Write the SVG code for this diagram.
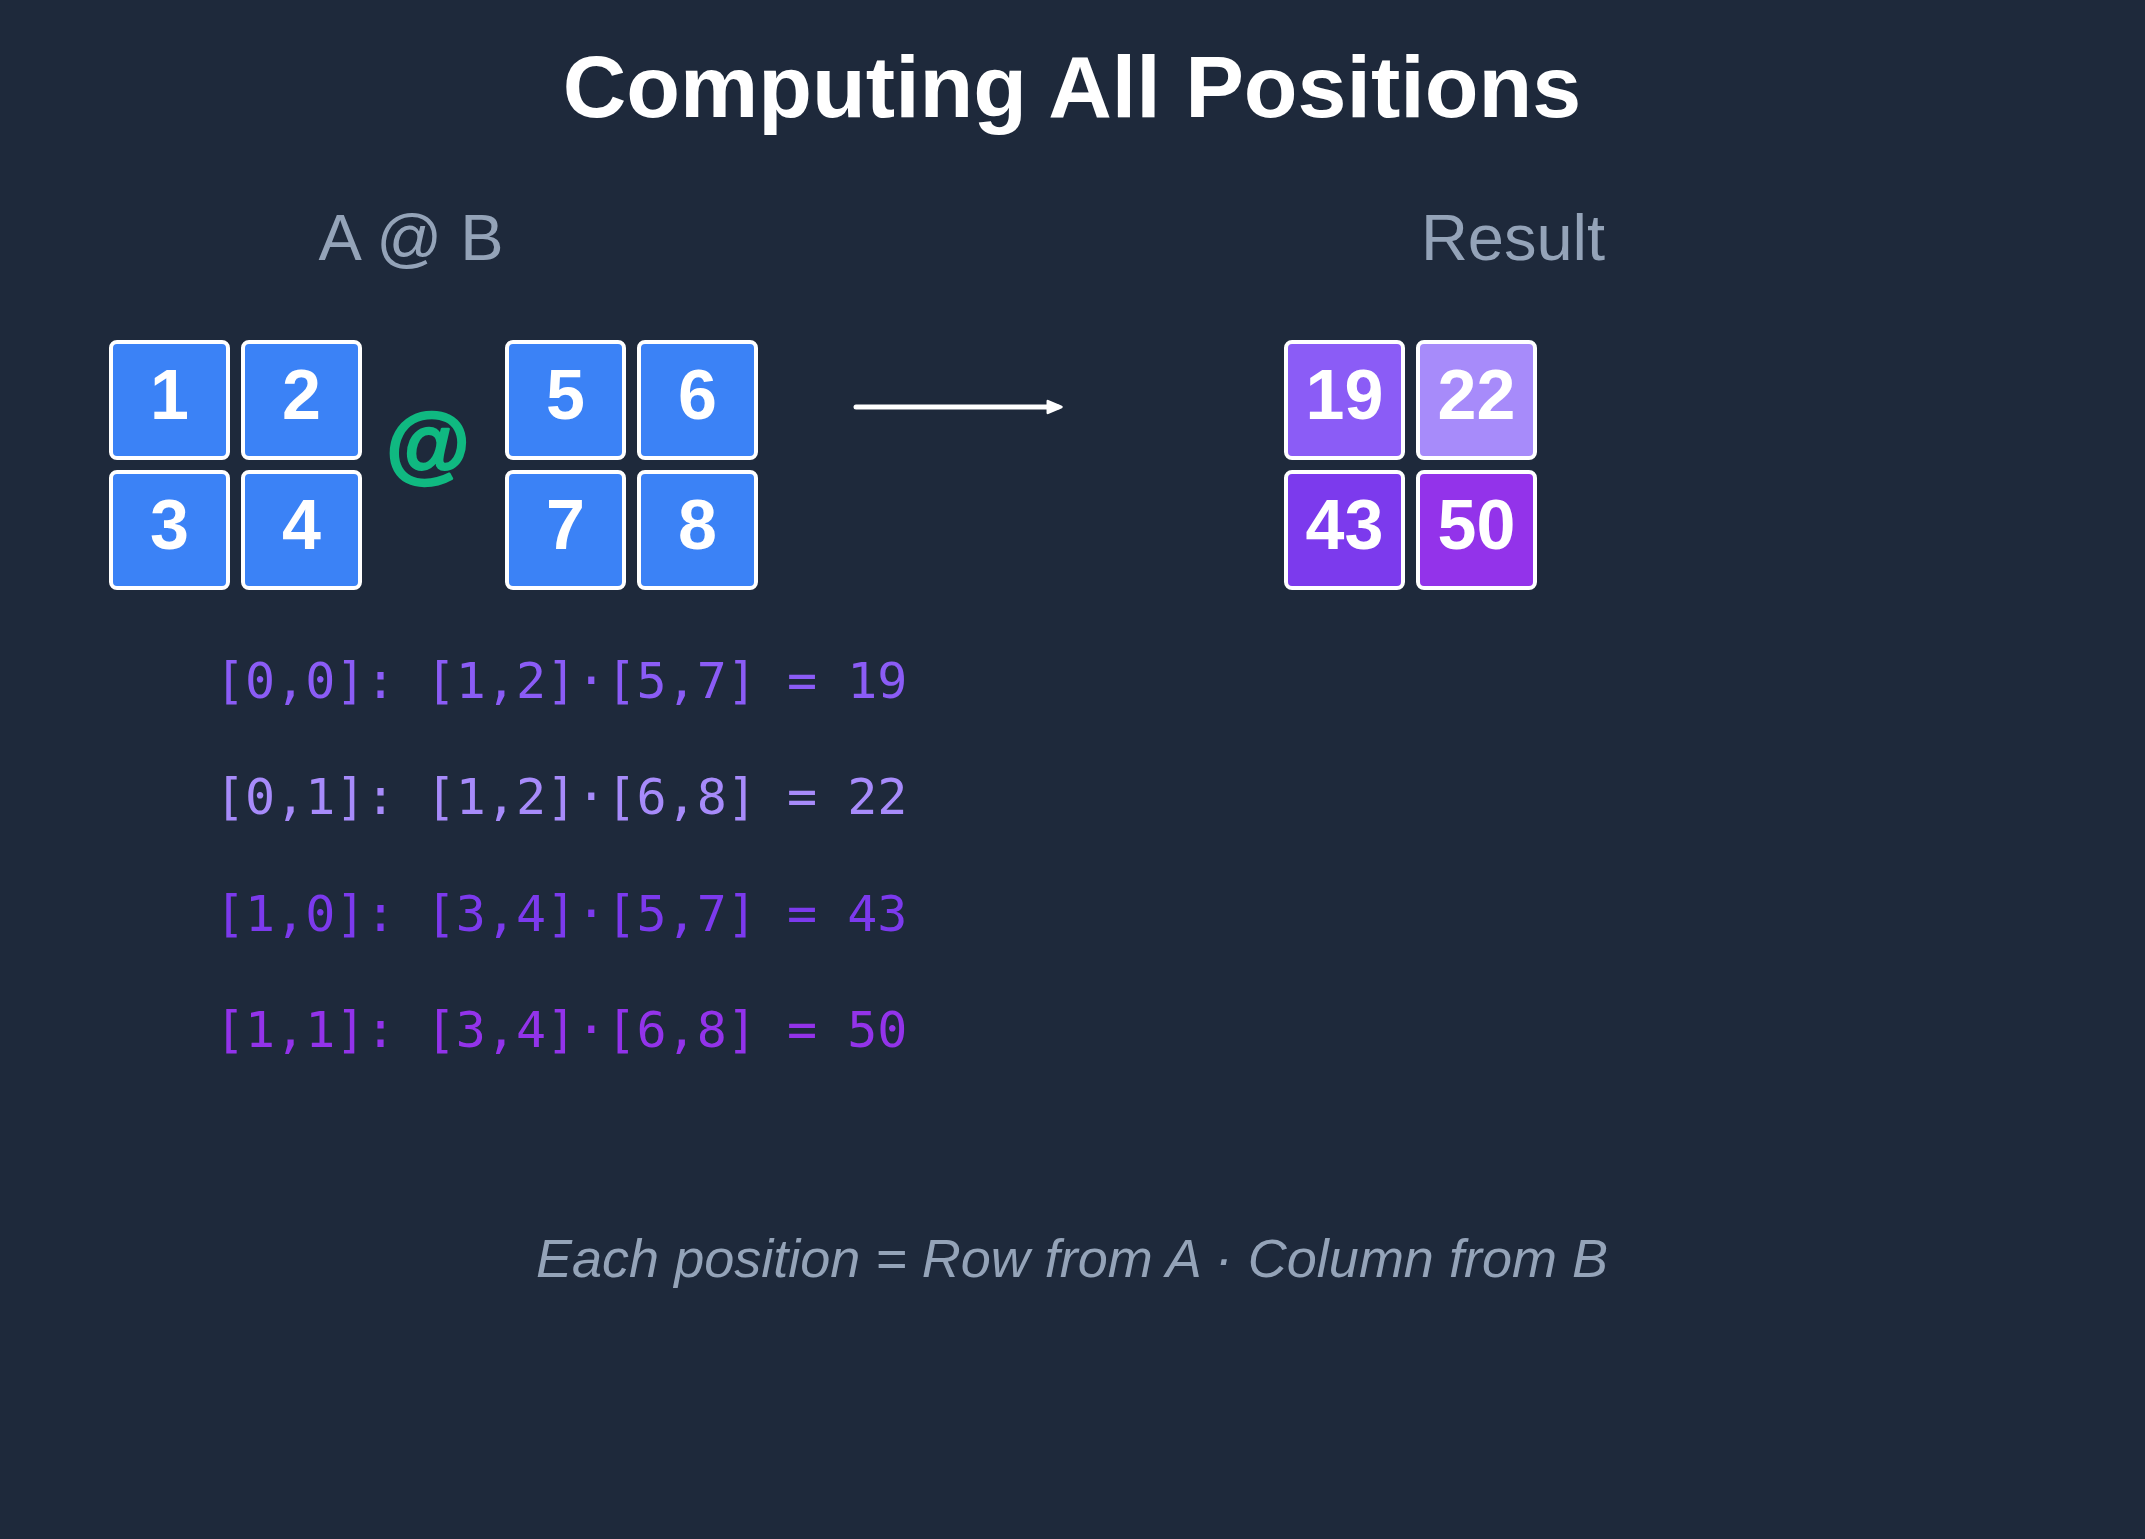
<svg xmlns="http://www.w3.org/2000/svg" width="2145" height="1539" viewBox="0 0 2145 1539">
<style>
.cell{stroke:#ffffff;stroke-width:4}
.blue{fill:#3b82f6}
.num{font-family:"Liberation Sans",Arial,sans-serif;font-weight:bold;font-size:70px;fill:#ffffff;text-anchor:middle}
.lbl{font-family:"Liberation Sans",Arial,sans-serif;font-size:65px;fill:#94a3b8;text-anchor:middle}
.code{font-family:"DejaVu Sans Mono",monospace;font-size:50px}
</style>
<defs>
<marker id="ah" viewBox="0 0 10 10" refX="7" refY="5" markerWidth="3.4" markerHeight="3.4" orient="auto" markerUnits="strokeWidth">
<path d="M1,1.5 L9,5 L1,8.5 Z" fill="#ffffff" stroke="#ffffff" stroke-width="1.5" stroke-linejoin="round"/>
</marker>
</defs>
<rect width="2145" height="1539" fill="#1e293b"/>
<text x="1072" y="117" font-family="Liberation Sans,Arial,sans-serif" font-weight="bold" font-size="88" fill="#ffffff" text-anchor="middle">Computing All Positions</text>
<text class="lbl" x="411" y="260">A @ B</text>
<text class="lbl" x="1513" y="260">Result</text>
<g id="matrixA">
<g id="a00"><rect class="cell blue" x="111" y="342" width="117" height="116" rx="6"/><text class="num" x="169.5" y="419">1</text></g>
<g id="a01"><rect class="cell blue" x="243" y="342" width="117" height="116" rx="6"/><text class="num" x="301.5" y="419">2</text></g>
<g id="a10"><rect class="cell blue" x="111" y="472" width="117" height="116" rx="6"/><text class="num" x="169.5" y="549">3</text></g>
<g id="a11"><rect class="cell blue" x="243" y="472" width="117" height="116" rx="6"/><text class="num" x="301.5" y="549">4</text></g>
</g>
<g id="op"><text x="428" y="472" font-family="Liberation Sans,Arial,sans-serif" font-weight="bold" font-size="86" fill="#10b981" stroke="#10b981" stroke-width="2.5" stroke-linejoin="round" text-anchor="middle">@</text></g>
<g id="matrixB">
<g id="b00"><rect class="cell blue" x="507" y="342" width="117" height="116" rx="6"/><text class="num" x="565.5" y="419">5</text></g>
<g id="b01"><rect class="cell blue" x="639" y="342" width="117" height="116" rx="6"/><text class="num" x="697.5" y="419">6</text></g>
<g id="b10"><rect class="cell blue" x="507" y="472" width="117" height="116" rx="6"/><text class="num" x="565.5" y="549">7</text></g>
<g id="b11"><rect class="cell blue" x="639" y="472" width="117" height="116" rx="6"/><text class="num" x="697.5" y="549">8</text></g>
</g>
<g id="connectors">
<line x1="856" y1="407" x2="1058" y2="407" stroke="#ffffff" stroke-width="5" stroke-linecap="round" marker-end="url(#ah)"/>
</g>
<g id="result">
<g id="r00"><rect class="cell" fill="#8b5cf6" x="1286" y="342" width="117" height="116" rx="6"/><text class="num" x="1344.5" y="419">19</text></g>
<g id="r01"><rect class="cell" fill="#a78bfa" x="1418" y="342" width="117" height="116" rx="6"/><text class="num" x="1476.5" y="419">22</text></g>
<g id="r10"><rect class="cell" fill="#7c3aed" x="1286" y="472" width="117" height="116" rx="6"/><text class="num" x="1344.5" y="549">43</text></g>
<g id="r11"><rect class="cell" fill="#9333ea" x="1418" y="472" width="117" height="116" rx="6"/><text class="num" x="1476.5" y="549">50</text></g>
</g>
<g id="formulas">
<text class="code" x="215" y="698" fill="#8b5cf6">[0,0]: [1,2]·[5,7] = 19</text>
<text class="code" x="215" y="814" fill="#a78bfa">[0,1]: [1,2]·[6,8] = 22</text>
<text class="code" x="215" y="931" fill="#7c3aed">[1,0]: [3,4]·[5,7] = 43</text>
<text class="code" x="215" y="1047" fill="#9333ea">[1,1]: [3,4]·[6,8] = 50</text>
</g>
<text x="1072" y="1277" font-family="Liberation Sans,Arial,sans-serif" font-style="italic" font-size="54" fill="#94a3b8" text-anchor="middle">Each position = Row from A · Column from B</text>
</svg>
